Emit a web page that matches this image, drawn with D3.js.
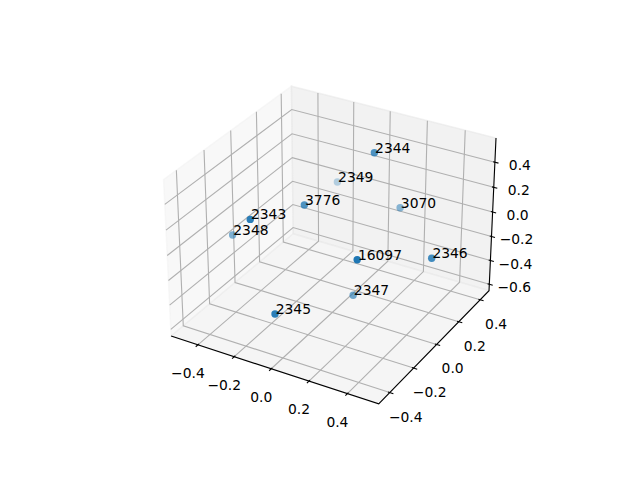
<!DOCTYPE html>
<html>
<head>
<meta charset="utf-8">
<title>3D scatter</title>
<script src="https://cdn.jsdelivr.net/npm/d3@7"></script>
<style>
body{margin:0;background:#fff}
svg{display:block}
text{font-family:"DejaVu Sans";font-size:13.89px;fill:#000}
</style>
</head>
<body>
<div id="diagram"></div>
<script>
// values
var labels=["2343","2344","2345","2346","2347","2348","2349","3070","3776","16097"];
var xValues=[-0.254,0.118,-0.048,0.482,0.156,-0.417,-0.127,0.217,-0.102,0.229];
var yValues=[-0.272,0.161,-0.387,0.069,-0.067,-0.186,0.235,0.229,-0.072,-0.150];
var zValues=[0.227,0.552,-0.332,-0.053,-0.378,-0.039,0.164,0.102,0.239,0.014];
var xTicks=[-0.4,-0.2,0,0.2,0.4];
var yTicks=[-0.4,-0.2,0,0.2,0.4];
var zTicks=[-0.6,-0.4,-0.2,0,0.2,0.4];
var xLim=[-0.55,0.56],yLim=[-0.49,0.485],zLim=[-0.655,0.59];

// same camera as matplotlib's default 3d axes (elev 30, azim -60, dist 10)
var k=1.8294640721620434*25/24/Math.sqrt(41);
var box=[4*k,4*k,3*k],dist=10;
var el=30*Math.PI/180,az=-60*Math.PI/180;
var w=[Math.cos(el)*Math.cos(az),Math.cos(el)*Math.sin(az),Math.sin(el)];
var E=box.map(function(b,i){return b/2+dist*w[i]});
function cross(a,b){return [a[1]*b[2]-a[2]*b[1],a[2]*b[0]-a[0]*b[2],a[0]*b[1]-a[1]*b[0]]}
function unit(a){var n=Math.hypot(a[0],a[1],a[2]);return a.map(function(c){return c/n})}
function dot(a,b){return a[0]*b[0]+a[1]*b[1]+a[2]*b[2]}
var u=unit(cross([0,0,1],w)),v=cross(w,u);
var scale=369.6/0.185,cx=143.2+0.095*scale,cy=427.2-0.095*scale;

var xScale=d3.scaleLinear().domain(xLim).range([0,box[0]]);
var yScale=d3.scaleLinear().domain(yLim).range([0,box[1]]);
var zScale=d3.scaleLinear().domain(zLim).range([0,box[2]]);

function proj(x,y,z){
	var d=[xScale(x)-E[0],yScale(y)-E[1],zScale(z)-E[2]];
	var D=-dot(w,d);
	return [cx+scale*dot(u,d)/D,cy-scale*dot(v,d)/D,D];
}
var line=d3.line().x(function(p){return proj(p[0],p[1],p[2])[0]}).y(function(p){return proj(p[0],p[1],p[2])[1]});

var svg=d3.select("#diagram").append("svg").attr("width",640).attr("height",480);
var x0=xLim[0],x1=xLim[1],y0=yLim[0],y1=yLim[1],z0=zLim[0],z1=zLim[1];

// panes
function pane(corners,color){
	svg.append("path").attr("d",line(corners)+"Z").attr("fill",color).attr("fill-opacity",0.5)
		.attr("stroke",color).attr("stroke-opacity",0.5).attr("stroke-width",1.39);
}
pane([[x0,y0,z0],[x0,y1,z0],[x0,y1,z1],[x0,y0,z1]],"#f2f2f2");
pane([[x0,y1,z0],[x1,y1,z0],[x1,y1,z1],[x0,y1,z1]],"#e6e6e6");
pane([[x0,y0,z0],[x1,y0,z0],[x1,y1,z0],[x0,y1,z0]],"#ececec");

// grid
var grid=svg.append("g").attr("fill","none").attr("stroke","#b0b0b0").attr("stroke-width",1.11);
xTicks.forEach(function(t){grid.append("path").attr("d",line([[t,y0,z0],[t,y1,z0],[t,y1,z1]]))});
yTicks.forEach(function(t){grid.append("path").attr("d",line([[x1,t,z0],[x0,t,z0],[x0,t,z1]]))});
zTicks.forEach(function(t){grid.append("path").attr("d",line([[x1,y1,t],[x0,y1,t],[x0,y0,t]]))});

// axis lines and ticks
var axes=svg.append("g").attr("fill","none").attr("stroke","#000").attr("stroke-width",1.11);
axes.append("path").attr("d",line([[x0,y0,z0],[x1,y0,z0],[x1,y1,z0],[x1,y1,z1]]));
var dx=(x1-x0)/12,dy=(y1-y0)/12;
xTicks.forEach(function(t){axes.append("path").attr("d",line([[t,y0-0.2*dy,z0],[t,y0+0.1*dy,z0]]))});
yTicks.forEach(function(t){axes.append("path").attr("d",line([[x1+0.2*dx,t,z0],[x1-0.1*dx,t,z0]]))});
zTicks.forEach(function(t){axes.append("path").attr("d",line([[x1+0.2*dx,y1,t],[x1-0.1*dx,y1,t]]))});

// tick labels
var fmt=d3.format(".1f");
function tickLabel(p,ox,oy,t){
	svg.append("text").attr("x",p[0]+ox).attr("y",p[1]+oy).attr("text-anchor","middle").attr("dy","0.36em").text(fmt(t));
}
xTicks.forEach(function(t){tickLabel(proj(t,y0,z0),-10,28,t)});
yTicks.forEach(function(t){tickLabel(proj(x1,t,z0),16,24,t)});
zTicks.forEach(function(t){tickLabel(proj(x1,y1,t),25,3,t)});

// points, far ones first and fainter
var points=labels.map(function(l,i){
	var p=proj(xValues[i],yValues[i],zValues[i]);
	return {label:l,sx:p[0],sy:p[1],depth:p[2]};
});
var depthNorm=d3.scaleLinear().domain(d3.extent(points,function(d){return d.depth})).range([0,1]);
points.sort(function(a,b){return b.depth-a.depth});
svg.selectAll("circle").data(points).enter().append("circle")
	.attr("cx",function(d){return d.sx}).attr("cy",function(d){return d.sy})
	.attr("r",3.7)
	.attr("fill","#1f77b4")
	.attr("fill-opacity",function(d){return 1-depthNorm(d.depth)*0.7});
svg.selectAll("text.pt").data(points).enter().append("text").attr("class","pt")
	.attr("x",function(d){return d.sx+0.7}).attr("y",function(d){return d.sy})
	.text(function(d){return d.label});
</script>
</body>
</html>
